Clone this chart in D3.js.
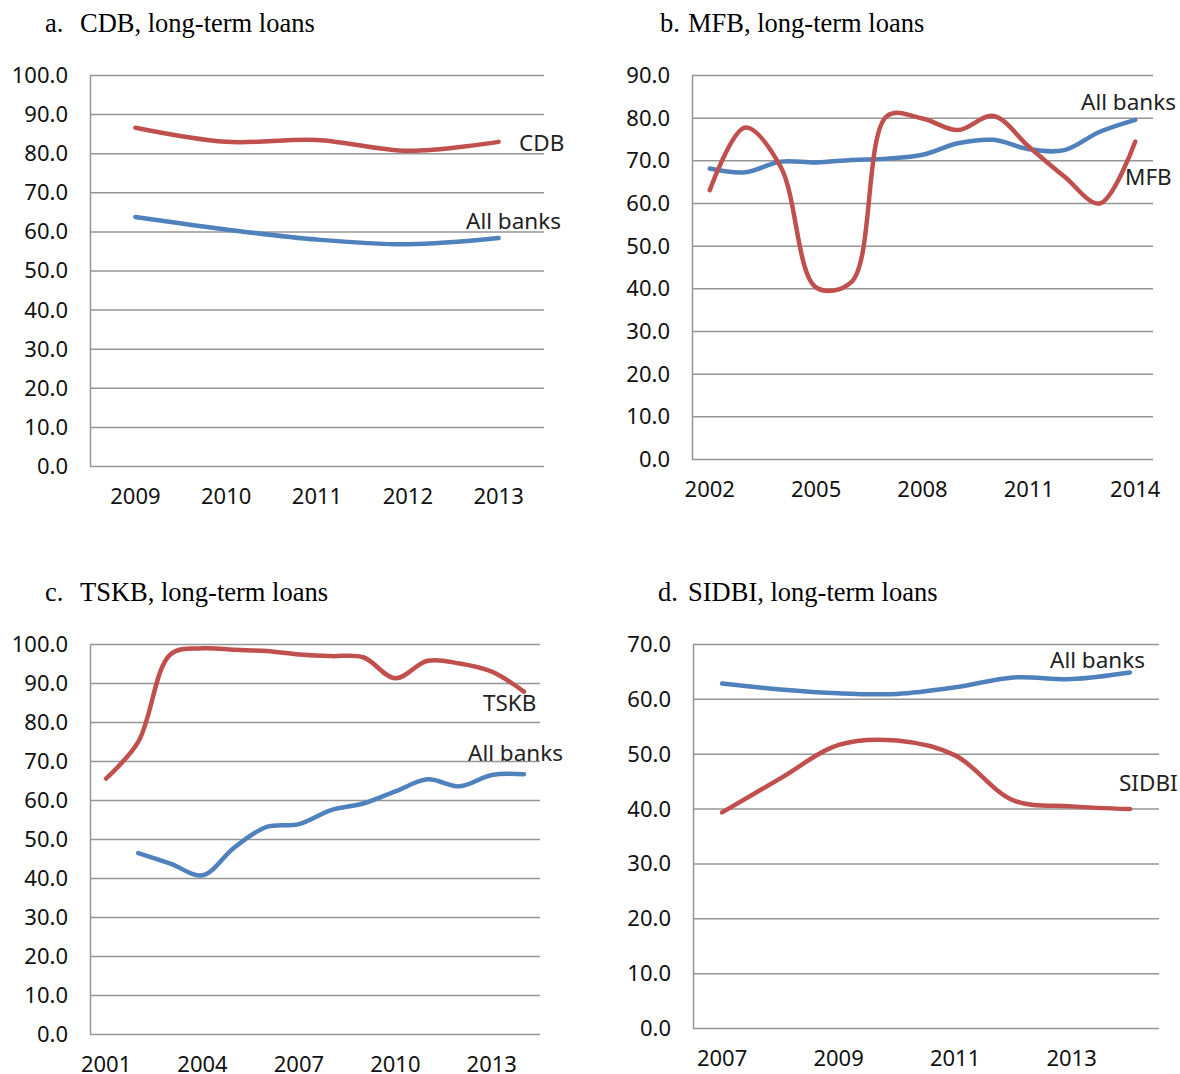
<!DOCTYPE html>
<html>
<head>
<meta charset="utf-8">
<script src="https://cdn.jsdelivr.net/npm/d3@7"></script>
<style>
  body { margin: 0; background: #fff; }
  .title { font-family: "Liberation Serif", "Times New Roman", serif; font-size: 26.5px; fill: #000; }
  .tick text { font-family: "Noto Sans", sans-serif; font-size: 22px; fill: #111; }
  .series-label { font-family: "Noto Sans", sans-serif; font-size: 22.5px; fill: #222; }
</style>
</head>
<body>
<div class="chart"></div>
<script>
// ---- data ----
var cdbYears = [2009, 2010, 2011, 2012, 2013];
var cdbValues = [86.5, 82.9, 83.4, 80.6, 82.9];
var cdbAllBanks = [63.7, 60.5, 57.9, 56.7, 58.3];
var cdbTicks = [0, 10, 20, 30, 40, 50, 60, 70, 80, 90, 100];

var mfbYears = [2002, 2003, 2004, 2005, 2006, 2007, 2008, 2009, 2010, 2011, 2012, 2013, 2014];
var mfbValues = [63.0, 77.7, 68.5, 40.2, 41.5, 80.4, 79.8, 77.1, 80.4, 73.2, 66.2, 59.9, 74.4];
var mfbAllBanks = [68.1, 67.2, 69.7, 69.5, 70.1, 70.4, 71.3, 74.0, 74.8, 72.6, 72.4, 76.7, 79.5];
var mfbTicks = [0, 10, 20, 30, 40, 50, 60, 70, 80, 90];
var mfbYearLabels = [2002, 2005, 2008, 2011, 2014];

var tskbYears = [2001, 2002, 2003, 2004, 2005, 2006, 2007, 2008, 2009, 2010, 2011, 2012, 2013, 2014];
var tskbValues = [65.5, 74.9, 97.3, 98.9, 98.5, 98.2, 97.3, 96.9, 96.6, 91.2, 95.7, 95.0, 92.9, 87.8];
var tskbAllBanks = [null, 46.4, 43.7, 40.7, 47.9, 53.1, 53.8, 57.4, 59.1, 62.2, 65.3, 63.5, 66.4, 66.6];
var tskbTicks = [0, 10, 20, 30, 40, 50, 60, 70, 80, 90, 100];
var tskbYearLabels = [2001, 2004, 2007, 2010, 2013];

var sidbiYears = [2007, 2008, 2009, 2010, 2011, 2012, 2013, 2014];
var sidbiValues = [39.3, 45.5, 51.6, 52.4, 49.7, 41.5, 40.4, 39.9];
var sidbiAllBanks = [62.8, 61.7, 61.0, 60.9, 62.1, 63.9, 63.6, 64.8];
var sidbiTicks = [0, 10, 20, 30, 40, 50, 60, 70];
var sidbiYearLabels = [2007, 2009, 2011, 2013];

var RED = "#c0504d", BLUE = "#4f81bd";

// ---- panel layout ----
var panels = [
  { prefix: "a.", title: "CDB, long-term loans", tx: 45, ttx: 80, ty: 32,
    left: 90, right: 544, top: 75, bottom: 466, clipY: 504,
    years: cdbYears, yearLabels: cdbYears, yTicks: cdbTicks,
    bank: cdbValues, all: cdbAllBanks,
    bankLabel: { text: "CDB", x: 519, y: 143 }, allLabel: { text: "All banks", x: 466, y: 221 } },
  { prefix: "b.", title: "MFB, long-term loans", tx: 660, ttx: 688, ty: 32,
    left: 692, right: 1153, top: 75, bottom: 459, clipY: 497,
    years: mfbYears, yearLabels: mfbYearLabels, yTicks: mfbTicks,
    bank: mfbValues, all: mfbAllBanks,
    bankLabel: { text: "MFB", x: 1125, y: 177 }, allLabel: { text: "All banks", x: 1081, y: 102 } },
  { prefix: "c.", title: "TSKB, long-term loans", tx: 45, ttx: 80, ty: 601,
    left: 90, right: 540, top: 644, bottom: 1034, clipY: 1072,
    years: tskbYears, yearLabels: tskbYearLabels, yTicks: tskbTicks,
    bank: tskbValues, all: tskbAllBanks,
    bankLabel: { text: "TSKB", x: 483, y: 703 }, allLabel: { text: "All banks", x: 468, y: 753 } },
  { prefix: "d.", title: "SIDBI, long-term loans", tx: 658, ttx: 688, ty: 601,
    left: 693, right: 1159, top: 644, bottom: 1028, clipY: 1066,
    years: sidbiYears, yearLabels: sidbiYearLabels, yTicks: sidbiTicks,
    bank: sidbiValues, all: sidbiAllBanks,
    bankLabel: { text: "SIDBI", x: 1119, y: 783 }, allLabel: { text: "All banks", x: 1050, y: 660 } }
];

var svg = d3.select(".chart")
  .append("svg")
  .attr("width", 1180)
  .attr("height", 1074);

panels.forEach(function (p, pi) {
  var g = svg.append("g");

  // title
  var title = g.append("text").attr("class", "title").attr("y", p.ty);
  title.append("tspan").attr("x", p.tx).text(p.prefix);
  title.append("tspan").attr("x", p.ttx).text(p.title);

  var xScale = d3.scaleBand()
    .domain(p.years)
    .range([p.left, p.right])
    .paddingInner(0)
    .paddingOuter(0);

  var yScale = d3.scaleLinear()
    .domain([0, d3.max(p.yTicks)])
    .range([p.bottom, p.top]);

  // y axis + gridlines
  var yAxis = d3.axisLeft(yScale)
    .tickValues(p.yTicks)
    .tickFormat(d3.format(".1f"))
    .tickSize(-(p.right - p.left))
    .tickSizeOuter(0)
    .tickPadding(22);

  var yG = g.append("g")
    .attr("transform", `translate(${p.left}, 0)`)
    .call(yAxis);
  yG.selectAll("line").attr("stroke", "#959595").attr("stroke-width", 1.5);
  yG.select(".domain").attr("stroke", "#959595").attr("stroke-width", 1.5);
  yG.selectAll("text").attr("dy", "0.34em");

  // x axis labels, cut off at the bottom like the source
  // (clip rect is in the axis group's local coordinates)
  var clipId = "xclip" + pi;
  svg.append("clipPath").attr("id", clipId)
    .append("rect")
    .attr("x", p.left - 80).attr("y", 0)
    .attr("width", p.right - p.left + 160).attr("height", p.clipY - p.bottom);

  var xAxis = d3.axisBottom(xScale)
    .tickValues(p.yearLabels)
    .tickSize(0)
    .tickPadding(22);

  var xG = g.append("g")
    .attr("transform", `translate(0, ${p.bottom})`)
    .attr("clip-path", `url(#${clipId})`)
    .call(xAxis);
  xG.select(".domain").remove();

  // smoothed lines
  var line = d3.line()
    .defined(d => d.v != null)
    .x(d => xScale(d.year) + xScale.bandwidth() / 2)
    .y(d => yScale(d.v))
    .curve(d3.curveCatmullRom.alpha(0.5));

  var allData = p.years.map((yr, i) => ({ year: yr, v: p.all[i] }));
  var bankData = p.years.map((yr, i) => ({ year: yr, v: p.bank[i] }));

  g.append("path")
    .datum(allData)
    .attr("d", line)
    .attr("fill", "none")
    .attr("stroke", BLUE)
    .attr("stroke-width", 4.5)
    .attr("stroke-linecap", "round");

  g.append("path")
    .datum(bankData)
    .attr("d", line)
    .attr("fill", "none")
    .attr("stroke", RED)
    .attr("stroke-width", 4.5)
    .attr("stroke-linecap", "round");

  // series labels
  [p.bankLabel, p.allLabel].forEach(function (lb) {
    g.append("text")
      .attr("class", "series-label")
      .attr("x", lb.x)
      .attr("y", lb.y)
      .attr("dy", "0.35em")
      .text(lb.text);
  });
});
</script>
</body>
</html>
